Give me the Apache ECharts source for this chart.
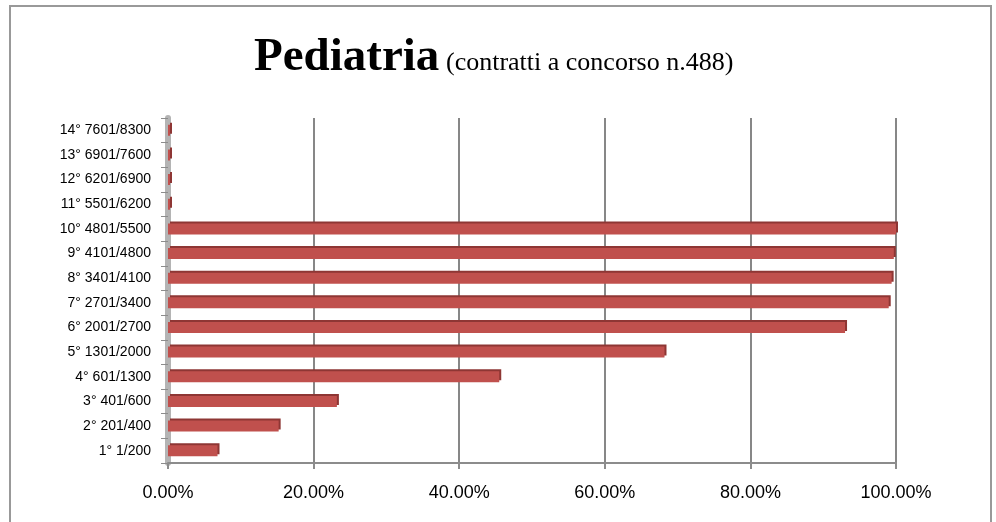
<!DOCTYPE html>
<html>
<head>
<meta charset="utf-8">
<script src="https://cdn.jsdelivr.net/npm/echarts@6/dist/echarts.min.js"></script>
<style>
  html, body { margin: 0; padding: 0; background: #fff; }
  #chart { width: 996px; height: 522px; }
</style>
</head>
<body>
<div id="chart"></div>
<script>
// categories bottom -> top
const categories = [
  '1° 1/200', '2° 201/400', '3° 401/600', '4° 601/1300', '5° 1301/2000',
  '6° 2001/2700', '7° 2701/3400', '8° 3401/4100', '9° 4101/4800',
  '10° 4801/5500', '11° 5501/6200', '12° 6201/6900', '13° 6901/7600', '14° 7601/8300'
]
// percentage of contracts assigned
const percentValues = [6.8, 15.2, 23.2, 45.5, 68.2, 93.0, 99.0, 99.4, 99.7, 100, 0, 0, 0, 0]
const xTicks = [0, 20, 40, 60, 80, 100]

const chart = echarts.init(document.getElementById('chart'))

const option = {
  backgroundColor: '#ffffff',
  animation: false,
  graphic: [
    {
      type: 'rect',
      shape: { x: 10, y: 6, width: 981, height: 540 },
      style: { fill: 'none', stroke: '#999999', lineWidth: 2 },
      silent: true
    },
    {
      type: 'text',
      x: 254,
      y: 81,
      style: {
        text: 'Pediatria',
        font: 'bold 47px "Liberation Serif", "Times New Roman", serif',
        fill: '#000',
        verticalAlign: 'bottom'
      }
    },
    {
      type: 'text',
      x: 446,
      y: 76,
      style: {
        text: '(contratti a concorso n.488)',
        font: '26px "Liberation Serif", "Times New Roman", serif',
        fill: '#000',
        verticalAlign: 'bottom'
      }
    }
  ],
  grid: {
    left: 168,
    right: 100,
    top: 118,
    bottom: 59
  },
  xAxis: {
    type: 'value',
    min: xTicks[0],
    max: xTicks[xTicks.length - 1],
    interval: 20,
    axisLine: { show: true, lineStyle: { color: '#8c8c8c', width: 2 } },
    axisTick: { show: true, length: 6, lineStyle: { color: '#8c8c8c', width: 2 } },
    axisLabel: {
      margin: 21,
      color: '#000',
      fontSize: 18,
      fontFamily: '"Liberation Sans", Arial, sans-serif',
      formatter: function (v) { return v.toFixed(2) + '%' }
    },
    splitLine: { show: true, lineStyle: { color: '#878787', width: 2 } }
  },
  yAxis: {
    type: 'category',
    data: categories,
    axisLine: { show: true, lineStyle: { color: '#b4b4b4', width: 6 } },
    axisTick: { show: true, length: 7, lineStyle: { color: '#8c8c8c', width: 1 } },
    axisLabel: {
      margin: 17,
      color: '#000',
      fontSize: 14,
      fontFamily: '"Liberation Sans", Arial, sans-serif'
    },
    splitLine: { show: false }
  },
  series: [
    {
      name: 'Pediatria',
      type: 'bar',
      data: percentValues,
      barWidth: 11,
      barMinHeight: 2,
      itemStyle: {
        color: '#c0504d',
        shadowColor: '#8e3634',
        shadowBlur: 0,
        shadowOffsetX: 2,
        shadowOffsetY: -2
      }
    }
  ]
}

chart.setOption(option)
</script>
</body>
</html>
